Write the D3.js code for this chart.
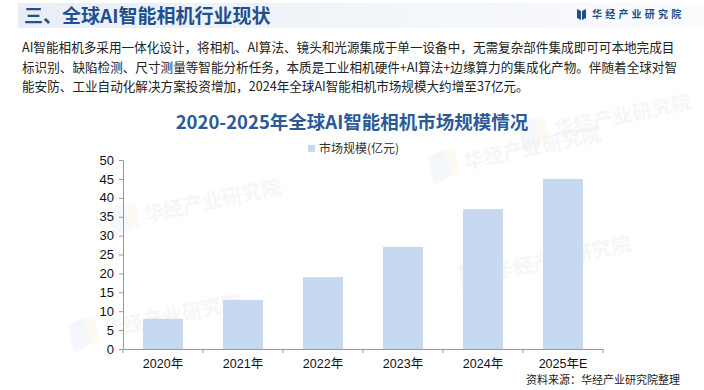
<!DOCTYPE html>
<html><head><meta charset="utf-8">
<script src="https://cdn.jsdelivr.net/npm/d3@7"></script>
<style>
html,body{margin:0;padding:0;background:#fff;}
svg{display:block;font-family:"Noto Sans CJK SC","Microsoft YaHei",sans-serif;}
</style></head>
<body><svg id="c" width="704" height="390"></svg>
<script>
const categories = ["2020年","2021年","2022年","2023年","2024年","2025年E"];
const values = [8, 13, 19, 27, 37, 45];
const yTicks = [0,5,10,15,20,25,30,35,40,45,50];
const seriesName = "市场规模(亿元)";
const headerTitle = "三、全球AI智能相机行业现状";
const brand = "华经产业研究院";
const paragraph = [
  "AI智能相机多采用一体化设计，将相机、AI算法、镜头和光源集成于单一设备中，无需复杂部件集成即可可本地完成目",
  "标识别、缺陷检测、尺寸测量等智能分析任务，本质是工业相机硬件+AI算法+边缘算力的集成化产物。伴随着全球对智",
  "能安防、工业自动化解决方案投资增加，2024年全球AI智能相机市场规模大约增至37亿元。"
];
const chartTitle = "2020-2025年全球AI智能相机市场规模情况";
const source = "资料来源：华经产业研究院整理";

const svg = d3.select("#c");
const defs = svg.append("defs");
const g1 = defs.append("linearGradient").attr("id","hdr").attr("x1","0").attr("x2","1");
g1.append("stop").attr("offset","0").attr("stop-color","#e9eef6");
g1.append("stop").attr("offset","0.6").attr("stop-color","#f3f6fa");
g1.append("stop").attr("offset","1").attr("stop-color","#fafbfd");

// header band
svg.append("rect").attr("x",18).attr("y",3).attr("width",686).attr("height",25).attr("fill","url(#hdr)");
svg.append("text").attr("x",24).attr("y",23).text(headerTitle)
  .attr("font-size",19).attr("font-weight","bold").attr("fill","#1f4f8f");

// brand logo
const lg = svg.append("g").attr("transform","translate(577,8)");
lg.append("path").attr("d","M0,1 L4,3 L4,12 L0,10 Z").attr("fill","#1f4f8f");
lg.append("path").attr("d","M5,3 L9,1 L9,10 L5,12 Z").attr("fill","#1f4f8f");
svg.append("text").attr("x",592).attr("y",18).text(brand)
  .attr("font-size",10).attr("font-weight","bold").attr("fill","#1f4f8f").attr("letter-spacing",3.2);

// watermarks (faint)
const wm = [[150,215],[470,162],[500,272],[110,330],[560,130]];
wm.forEach(([x,y])=>{
  const w = svg.append("g").attr("transform",`translate(${x},${y}) rotate(-12)`).attr("opacity",0.4);
  w.append("path").attr("d","M-40,-14 L-22,-18 L-22,10 L-40,14 Z").attr("fill","#e6edf7");
  w.append("path").attr("d","M-22,-18 L-12,-16 L-12,10 L-22,10 Z").attr("fill","#fbf5e0");
  w.append("text").attr("x",-6).attr("y",6).text(brand).attr("font-size",20).attr("font-weight","bold").attr("fill","#e8ebf0");
});

// paragraph
paragraph.forEach((t,i)=>{
  svg.append("text").attr("x",22).attr("y",52+i*19.5).text(t)
    .attr("font-size",12.6).attr("fill","#222");
});

// chart title
svg.append("text").attr("x",352).attr("y",129).attr("text-anchor","middle").text(chartTitle)
  .attr("font-size",18.5).attr("font-weight","bold").attr("fill","#2b5a96");

// legend
svg.append("rect").attr("x",308).attr("y",145).attr("width",7).attr("height",7).attr("fill","#c6d9f0");
svg.append("text").attr("x",319).attr("y",153).text(seriesName).attr("font-size",12).attr("fill","#333");

const margin = {l:123, r:603, t:160, b:349};
const x = d3.scaleBand().domain(categories).range([margin.l, margin.r]).paddingInner(0.5).paddingOuter(0.25);
const y = d3.scaleLinear().domain([0,50]).range([margin.b, margin.t]);

svg.append("g").selectAll("rect").data(values).join("rect")
  .attr("x",(d,i)=>x(categories[i])).attr("width",x.bandwidth())
  .attr("y",d=>y(d)).attr("height",d=>y(0)-y(d)).attr("fill","#c6d9f0");

const yAxis = svg.append("g").attr("transform",`translate(${margin.l},0)`)
  .call(d3.axisLeft(y).tickValues(yTicks).tickSize(4).tickSizeOuter(0));
yAxis.selectAll("text").attr("font-size",13).attr("fill","#111").attr("font-family","Liberation Sans, Arial, sans-serif").attr("dx",-2);
yAxis.selectAll("line,path").attr("stroke","#999");

const xAxis = svg.append("g").attr("transform",`translate(0,${margin.b})`)
  .call(d3.axisBottom(x).tickSize(0).tickSizeOuter(0));
xAxis.selectAll("text").attr("font-size",12.5).attr("fill","#111").attr("dy","1.25em").attr("font-family","Liberation Sans, Noto Sans CJK SC, sans-serif");
xAxis.select("path").attr("stroke","#999");
const bounds = d3.range(categories.length+1).map(i=>margin.l + i*(margin.r-margin.l)/categories.length);
xAxis.selectAll("line.b").data(bounds).join("line").attr("class","b")
  .attr("x1",d=>d).attr("x2",d=>d).attr("y1",0).attr("y2",4).attr("stroke","#999");

svg.append("text").attr("x",680).attr("y",384).attr("text-anchor","end").text(source)
  .attr("font-size",11).attr("fill","#222");
</script></body></html>
